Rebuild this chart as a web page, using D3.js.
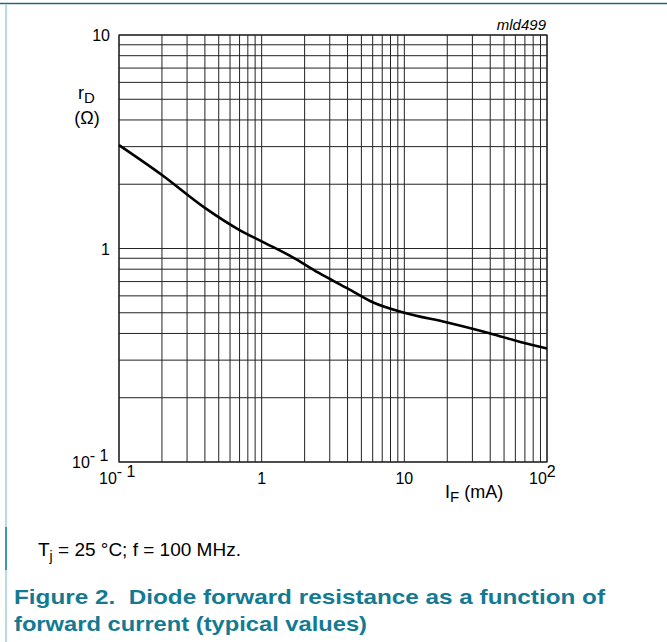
<!DOCTYPE html>
<html><head><meta charset="utf-8">
<script src="https://cdn.jsdelivr.net/npm/d3@7"></script>
<style>
html,body{margin:0;padding:0;background:#fff;}
svg{display:block;font-family:"Liberation Sans",Arial,sans-serif;}
</style></head>
<body>
<svg id="c" width="667" height="642"></svg>
<script>
// Data
const forwardCurrent_mA = [0.1, 0.2, 0.4, 0.7, 1, 1.7, 2.5, 4, 6, 10, 20, 40, 65, 100];
const resistance_ohm    = [3.05, 2.21, 1.55, 1.22, 1.08, 0.90, 0.77, 0.65, 0.56, 0.50, 0.45, 0.40, 0.365, 0.34];
const xTickLabels = [{v:0.1, base:"10", sup:"-1"}, {v:1, base:"1"}, {v:10, base:"10"}, {v:100, base:"10", sup:"2"}];
const yTickLabels = [{v:10, base:"10"}, {v:1, base:"1"}, {v:0.1, base:"10", sup:"-1"}];

const svg = d3.select("#c");
const L = 119, R = 547, T = 35, B = 462;
const x = d3.scaleLog().domain([0.1, 100]).range([L, R]);
const y = d3.scaleLog().domain([0.1, 10]).range([B, T]);

// page decorations
svg.append("line").attr("x1",0).attr("x2",667).attr("y1",3.5).attr("y2",3.5).attr("stroke","#1d6b80").attr("stroke-width",1.5);
svg.append("line").attr("x1",6).attr("x2",6).attr("y1",4).attr("y2",642).attr("stroke","#b8dce4").attr("stroke-width",2);
svg.append("line").attr("x1",6).attr("x2",6).attr("y1",527).attr("y2",570).attr("stroke","#3b98ad").attr("stroke-width",2);

// grid
const g = svg.append("g");
const xt = x.ticks().filter(v => v >= 0.1 && v <= 100);
const yt = y.ticks().filter(v => v >= 0.1 && v <= 10);
g.selectAll("line.vx").data(xt).join("line")
  .attr("x1", d => x(d)).attr("x2", d => x(d)).attr("y1", T).attr("y2", B)
  .attr("stroke","#222").attr("stroke-width",1);
g.selectAll("line.hy").data(yt).join("line")
  .attr("y1", d => y(d)).attr("y2", d => y(d)).attr("x1", L).attr("x2", R)
  .attr("stroke","#222").attr("stroke-width",1);
svg.append("rect").attr("x",L).attr("y",T).attr("width",R-L).attr("height",B-T)
  .attr("fill","none").attr("stroke","#222").attr("stroke-width",1.2);

// curve
const line = d3.line().x(d => x(d[0])).y(d => y(d[1])).curve(d3.curveMonotoneX);
svg.append("path").datum(d3.zip(forwardCurrent_mA, resistance_ohm))
  .attr("d", line).attr("fill","none").attr("stroke","#000").attr("stroke-width",2.6);

// tick labels
const FS = 16;
function label(sel, d, px, py, anchor){
  const t = sel.append("text").attr("x",px).attr("y",py).attr("text-anchor",anchor)
    .attr("font-size",FS).attr("fill","#000");
  t.append("tspan").text(d.base);
  if (d.sup) t.append("tspan").attr("dy",-7).attr("font-size",FS).text(d.sup.replace("-","- "));
  return t;
}
xTickLabels.forEach(d => {
  const px = x(d.v);
  if (d.v === 0.1) label(svg, d, px - 20, 484, "start");
  else if (d.v === 100) label(svg, d, px - 18, 484, "start");
  else label(svg, d, px, 484, "middle");
});
yTickLabels.forEach(d => {
  const py = y(d.v);
  if (d.sup) label(svg, d, 72, py + 6, "start");
  else label(svg, d, 110, py + 6, "end");
});

// axis titles
const yl = svg.append("text").attr("x",78).attr("y",99).attr("font-size",18);
yl.append("tspan").text("r");
yl.append("tspan").attr("dy",4).attr("font-size",15).text("D");
svg.append("text").attr("x",87).attr("y",124).attr("text-anchor","middle").attr("font-size",18).text("(Ω)");
const xl = svg.append("text").attr("x",445).attr("y",498).attr("font-size",18);
xl.append("tspan").text("I");
xl.append("tspan").attr("dy",4).attr("font-size",15).text("F");
xl.append("tspan").attr("dy",-4).text(" (mA)");

svg.append("text").attr("x",546).attr("y",30).attr("text-anchor","end").attr("font-size",15)
  .attr("font-style","italic").text("mld499");

// notes & caption
const n = svg.append("text").attr("x",38).attr("y",556).attr("font-size",19).attr("fill","#000");
n.append("tspan").text("T");
n.append("tspan").attr("dy",5).attr("font-size",14).text("j");
n.append("tspan").attr("dy",-5).text(" = 25 °C; f = 100 MHz.");

svg.append("text").attr("x",14).attr("y",604).attr("font-size",21).attr("font-weight","bold")
  .attr("fill","#137a92").attr("textLength",591).attr("lengthAdjust","spacingAndGlyphs")
  .attr("xml:space","preserve").style("white-space","pre")
  .text("Figure 2.  Diode forward resistance as a function of");
svg.append("text").attr("x",14).attr("y",631).attr("font-size",21).attr("font-weight","bold")
  .attr("fill","#137a92").attr("textLength",353).attr("lengthAdjust","spacingAndGlyphs")
  .text("forward current (typical values)");
</script>
</body></html>
